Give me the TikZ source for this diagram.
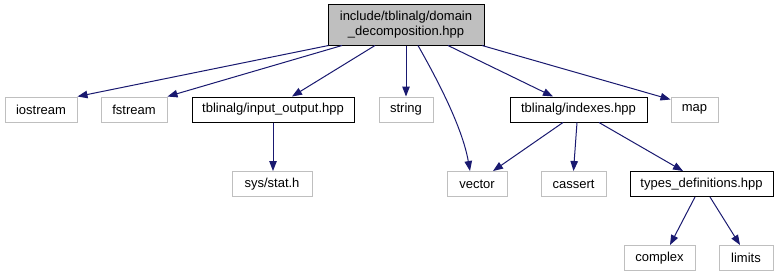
\documentclass[tikz,border=0pt]{standalone}
\usepackage{fontspec}
\setmainfont{Liberation Sans}
\usetikzlibrary{arrows.meta}
\definecolor{edgeblue}{HTML}{191970}
\definecolor{sysgray}{HTML}{BFBFBF}
\tikzset{
  box/.style={draw, line width=1pt, inner sep=0pt, font=\fontsize{13}{14.5}\selectfont, align=center},
  filebox/.style={box, draw=black},
  sysbox/.style={box, draw=sysgray},
  rootbox/.style={box, draw=black, fill=sysgray},
  dep/.style={draw=edgeblue, line width=1pt, -{Triangle[length=10pt,width=7.5pt,fill=edgeblue]}},
}
\begin{document}
\begin{tikzpicture}[x=1pt, y=-1pt]
  \useasboundingbox[fill=white] (0,0) rectangle (780,277);

  % header being documented
  \node[rootbox, minimum width=156pt, minimum height=41pt] (root) at (406,24.5)
    {include/tblinalg/domain\\\_decomposition.hpp};

  % direct includes
  \node[sysbox,  minimum width=72pt,  minimum height=25pt] (iostream) at (41,109.5)  {iostream};
  \node[sysbox,  minimum width=66pt,  minimum height=25pt] (fstream)  at (134,109.5) {fstream};
  \node[filebox, minimum width=162pt, minimum height=25pt] (io)       at (273,109.5) {tblinalg/input\_output.hpp};
  \node[sysbox,  minimum width=54pt,  minimum height=25pt] (string)   at (406,109.5) {string};
  \node[filebox, minimum width=137pt, minimum height=25pt] (indexes)  at (578.5,109.5) {tblinalg/indexes.hpp};
  \node[sysbox,  minimum width=47pt,  minimum height=25pt] (map)      at (694.5,109.5) {map};

  % second level
  \node[sysbox,  minimum width=80pt,  minimum height=25pt] (sysstat)  at (272,184)   {sys/stat.h};
  \node[sysbox,  minimum width=60pt,  minimum height=25pt] (vector)   at (477,184)   {vector};
  \node[sysbox,  minimum width=65pt,  minimum height=25pt] (cassert)  at (573.5,184) {cassert};
  \node[filebox, minimum width=143pt, minimum height=25pt] (types)    at (701.5,184) {types\_definitions.hpp};

  % third level
  \node[sysbox,  minimum width=71pt,  minimum height=25pt] (complex)  at (659.5,258) {complex};
  \node[sysbox,  minimum width=54pt,  minimum height=25pt] (limits)   at (746,258)   {limits};

  % include edges
  \draw[dep] ([xshift=1pt]root.south west) -- (iostream.north east);
  \draw[dep] ([xshift=-64pt]root.south) -- (fstream.north east);
  \draw[dep] ([xshift=-31pt]root.south) -- ([xshift=19pt]io.north);
  \draw[dep] (root.south) -- (string.north);
  \draw[dep] ([xshift=12pt]root.south)
    .. controls ([shift={(29,30)}]root.south) and ([shift={(56,80)}]root.south)
    .. ([xshift=-7pt]vector.north);
  \draw[dep] ([xshift=42pt]root.south) -- ([xshift=-25.5pt]indexes.north);
  \draw[dep] ([xshift=76pt]root.south) -- ([shift={(0,3)}]map.north west);

  \draw[dep] (io.south) -- (io.south |- sysstat.north);

  \draw[dep] ([xshift=-15.5pt]indexes.south) -- ([xshift=16pt]vector.north);
  \draw[dep] ([xshift=-1.5pt]indexes.south) -- (cassert.north);
  \draw[dep] ([xshift=20.5pt]indexes.south) -- ([xshift=-18.5pt]types.north);

  \draw[dep] ([xshift=-6.5pt]types.south) -- ([xshift=10.5pt]complex.north);
  \draw[dep] ([xshift=8.5pt]types.south) -- ([xshift=-6pt]limits.north);
\end{tikzpicture}
\end{document}
